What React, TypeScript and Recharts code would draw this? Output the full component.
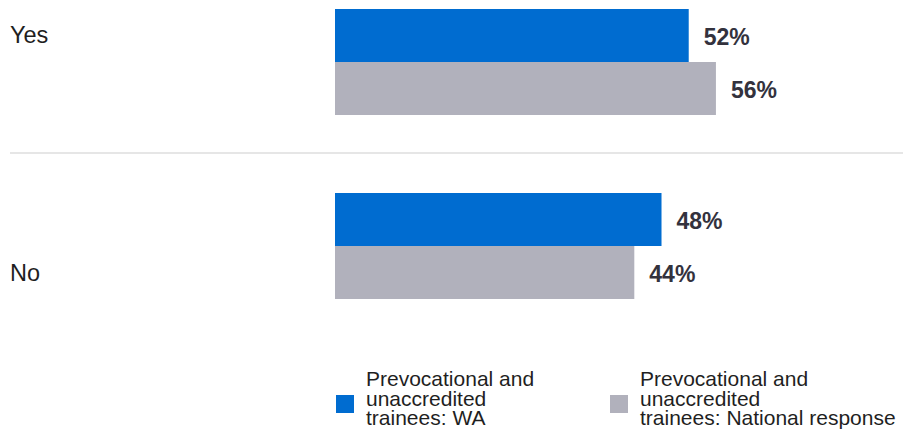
import React from 'react';
import { BarChart, Bar, XAxis, YAxis, Legend, LabelList } from 'recharts';

const categories = ['Yes', 'No'];
const waValues = [52, 48];
const nationalValues = [56, 44];
const seriesNames = [
  'Prevocational and\nunaccredited\ntrainees: WA',
  'Prevocational and\nunaccredited\ntrainees: National response',
];
const seriesColors = ['#006CD0', '#B1B1BC'];

const data = categories.map((c, i) => ({
  category: c,
  wa: waValues[i],
  national: nationalValues[i],
}));

const FONT = '"Liberation Sans", Arial, Helvetica, sans-serif';

const CategoryTick = (props: any) => {
  const { y, payload, index } = props;
  const half = payload && typeof payload.offset === 'number' ? payload.offset : 92;
  const shift = index === 0 ? -27 : 27;
  return (
    <g>
      <text
        x={10}
        y={y + shift}
        dy="0.355em"
        textAnchor="start"
        fontFamily={FONT}
        fontSize={23.5}
        fill="#1f1f1f"
      >
        {payload.value}
      </text>
      {index === 0 && (
        <line x1={10} x2={903} y1={y + half - 1} y2={y + half - 1} stroke="#e6e6e6" strokeWidth={2} />
      )}
    </g>
  );
};

const renderLegend = (props: any) => {
  const payload = [...(props.payload || [])].sort(
    (a: any, b: any) => seriesNames.indexOf(a.value) - seriesNames.indexOf(b.value)
  );
  return (
    <div style={{ position: 'relative', width: 903, height: 430 }}>
      <div style={{ position: 'absolute', left: 336, top: 369, display: 'flex' }}>
        {payload.map((entry: any, i: number) => (
          <div
            key={i}
            style={{ display: 'flex', alignItems: 'flex-start', width: i === 0 ? 274 : 'auto' }}
          >
            <span
              style={{
                display: 'inline-block',
                width: 18,
                height: 18,
                marginTop: 26,
                marginRight: 12,
                background: entry.color,
                flex: 'none',
              }}
            />
            <span
              style={{
                whiteSpace: 'pre',
                fontFamily: FONT,
                fontSize: 21,
                lineHeight: '19.5px',
                color: '#1f1f1f',
              }}
            >
              {entry.value}
            </span>
          </div>
        ))}
      </div>
    </div>
  );
};

export default function App() {
  return (
    <div style={{ width: 903, height: 430, overflow: 'hidden', background: '#fff' }}>
      <style>{'body{margin:0;}'}</style>
      <BarChart
        width={903}
        height={430}
        layout="vertical"
        data={data}
        margin={{ top: -30, right: 0, bottom: 92, left: 0 }}
        barGap={0}
        barSize={53}
      >
        <XAxis type="number" domain={[0, 83.5]} hide />
        <YAxis
          type="category"
          dataKey="category"
          width={335}
          axisLine={false}
          tickLine={false}
          tick={<CategoryTick />}
        />
        <Legend
          layout="horizontal"
          verticalAlign="middle"
          align="center"
          wrapperStyle={{ left: 0, top: 0, width: 903, height: 430, pointerEvents: 'none' }}
          content={renderLegend}
        />
        <Bar dataKey="wa" name={seriesNames[0]} fill={seriesColors[0]} isAnimationActive={false}>
          <LabelList
            dataKey="wa"
            position="right"
            offset={15}
            formatter={(v: any) => `${v}%`}
            fill="#33323d"
            fontSize={23}
            fontWeight="bold"
            fontFamily={FONT}
            dy={1}
          />
        </Bar>
        <Bar dataKey="national" name={seriesNames[1]} fill={seriesColors[1]} isAnimationActive={false}>
          <LabelList
            dataKey="national"
            position="right"
            offset={15}
            formatter={(v: any) => `${v}%`}
            fill="#33323d"
            fontSize={23}
            fontWeight="bold"
            fontFamily={FONT}
            dy={1}
          />
        </Bar>
      </BarChart>
    </div>
  );
}
